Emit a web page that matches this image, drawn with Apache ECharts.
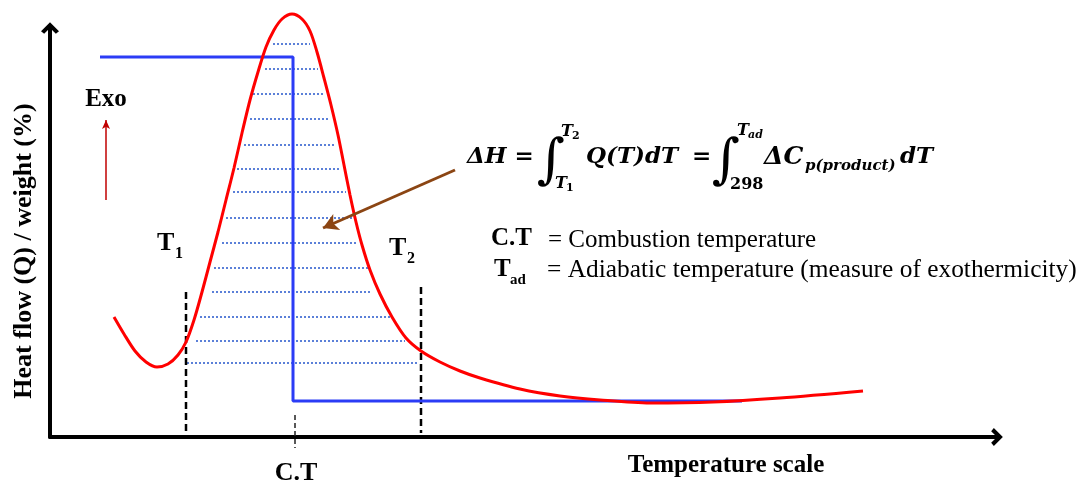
<!DOCTYPE html>
<html>
<head>
<meta charset="utf-8">
<script src="https://cdn.jsdelivr.net/npm/echarts@6/dist/echarts.min.js"></script>
<style>
  html, body { margin: 0; padding: 0; background: #fff; }
  #container { width: 1086px; height: 483px; }
</style>
</head>
<body>
<div id="container"></div>
<script>
// DSC / TG style sketch, arbitrary units (temperature scale, heat flow)
const curveT = [64, 74, 85, 96, 107, 118, 128, 136, 144, 152, 160, 168, 176, 184, 192, 200, 208, 216, 224, 232, 242, 252, 260, 267, 274, 281, 288, 294, 300, 306, 312, 320, 330, 342, 356, 371, 390, 410, 430, 470, 510, 550, 600, 663, 730, 813];
const curveQ = [120, 103, 86, 75, 70, 73, 82, 95, 117, 145, 175, 205, 237, 269, 304, 337, 365, 390, 407, 418, 423, 418, 406, 385, 359, 332, 302, 272, 242, 215, 192, 167, 143, 120, 99, 86, 75, 66, 59, 48, 41, 37, 34, 35, 39, 46];

const stepT = [50, 243, 243, 692];
const stepQ = [380, 380, 36, 36];

// hatched area under the peak
const hatchQ = [393, 368, 343, 318, 292, 268, 245, 219, 194, 169, 145, 120, 96, 74];
const hatchFrom = [223, 215, 203, 200, 194, 187, 183, 176, 172, 164, 162, 150, 146, 137];
const hatchTo = [260, 268, 275, 278, 285, 290, 296, 305, 308, 318, 322, 342, 355, 367];

// T1, C.T, T2 markers
const markT = [136, 245, 371];
const markTop = [145, 22, 150];
const markBottom = [0, -11, 4];

const exoArrow = [[56, 237], [56, 317]];
const dhArrow = [[405, 267], [273, 209]];

const chart = echarts.init(document.getElementById('container'), null, { renderer: 'canvas' });

const pts = (xs, ys) => xs.map((x, i) => [x, ys[i]]);
const chevron = 'path://M0,10 L10,0 L20,10 L16.5,13 L10,6.5 L3.5,13 Z';
const serif = '"Liberation Serif", "Times New Roman", serif';
const mathFont = '"DejaVu Serif", serif';

const series = [];

hatchQ.forEach((q, i) => {
  series.push({
    type: 'line',
    data: [[hatchFrom[i], q], [hatchTo[i], q]],
    symbol: 'none',
    clip: false,
    silent: true,
    lineStyle: { color: '#5b80d8', width: 2, type: [2, 2] }
  });
});

markT.forEach((t, i) => {
  series.push({
    type: 'line',
    data: [[t, markTop[i]], [t, markBottom[i]]],
    symbol: 'none',
    clip: false,
    silent: true,
    lineStyle: i === 1
      ? { color: '#222', width: 1.5, type: [5, 3] }
      : { color: '#000', width: 2.5, type: [7, 4] }
  });
});

series.push({
  type: 'line',
  data: pts(stepT, stepQ),
  symbol: 'none',
  clip: false,
  lineStyle: { color: '#2b3cf6', width: 3 }
});

series.push({
  type: 'line',
  data: pts(curveT, curveQ),
  smooth: 0.3,
  symbol: 'none',
  clip: false,
  lineStyle: { color: '#ff0000', width: 3 },
  markLine: {
    silent: true,
    animation: false,
    label: { show: false },
    data: [
      [
        { coord: exoArrow[0], symbol: 'none', lineStyle: { color: '#c00000', width: 1.5, type: 'solid' } },
        { coord: exoArrow[1], symbol: 'arrow', symbolSize: [6, 9], lineStyle: { color: '#c00000', width: 1.5, type: 'solid' } }
      ],
      [
        { coord: dhArrow[0], symbol: 'none', lineStyle: { color: '#8b4513', width: 3, type: 'solid' } },
        { coord: dhArrow[1], symbol: 'arrow', symbolSize: [13, 15], lineStyle: { color: '#8b4513', width: 3, type: 'solid' } }
      ]
    ]
  }
});

const txt = (text, x, y, font, extra) => ({
  type: 'text',
  silent: true,
  style: Object.assign({ text, x, y, font, fill: '#000', textAlign: 'left', textVerticalAlign: 'middle' }, extra || {})
});

const yName = txt('Heat flow (Q) / weight (%)', 0, 0, 'bold 26px ' + serif, { textAlign: 'center' });
yName.rotation = Math.PI / 2;
yName.x = 24;
yName.y = 251;

const graphic = [
  yName,
  txt('Temperature scale', 726, 466, 'bold 25px ' + serif, { textAlign: 'center' }),
  txt('C.T', 296, 473, 'bold 26px ' + serif, { textAlign: 'center' }),
  txt('Exo', 106, 100, 'bold 25px ' + serif, { textAlign: 'center' }),
  txt('T', 157, 243, 'bold 26px ' + serif),
  txt('1', 175, 254, 'bold 16px ' + serif),
  txt('T', 389, 248, 'bold 26px ' + serif),
  txt('2', 407, 259, 'bold 16px ' + serif),
  txt('C.T', 491, 239, 'bold 25px ' + serif),
  txt('= Combustion temperature', 548, 240, '25px ' + serif),
  txt('T', 494, 270, 'bold 25px ' + serif),
  txt('ad', 510, 280, 'bold 15px ' + serif),
  txt('= Adiabatic temperature (measure of exothermicity)', 547, 270, '25.4px ' + serif),
  // formula
  txt('\u0394H =', 467, 157, 'italic bold 23px ' + mathFont),
  txt('\u222B', 537, 163, '54px ' + mathFont),
  txt('T', 561, 132, 'italic bold 16px ' + mathFont),
  txt('2', 572, 136, 'bold 11px ' + mathFont),
  txt('T', 555, 184, 'italic bold 16px ' + mathFont),
  txt('1', 566, 188, 'bold 11px ' + mathFont),
  txt('Q(T)dT', 586, 157, 'italic bold 23px ' + mathFont),
  txt('=', 692, 157, 'bold 23px ' + mathFont),
  txt('\u222B', 712, 163, '54px ' + mathFont),
  txt('T', 737, 131, 'italic bold 16px ' + mathFont),
  txt('ad', 748, 135, 'italic bold 11px ' + mathFont),
  txt('298', 730, 185, 'bold 16px ' + mathFont),
  txt('\u0394C', 764, 157, 'italic bold 25px ' + mathFont),
  txt('p(product)', 805, 166, 'italic bold 15px ' + mathFont),
  txt('dT', 900, 157, 'italic bold 23px ' + mathFont)
];

const option = {
  animation: false,
  grid: { left: 50, right: 89, top: 28, bottom: 46 },
  xAxis: {
    type: 'value',
    min: 0,
    max: 947,
    axisLine: { show: true, symbol: ['none', chevron], symbolSize: [18, 12], lineStyle: { color: '#000', width: 4 } },
    axisTick: { show: false },
    axisLabel: { show: false },
    splitLine: { show: false }
  },
  yAxis: {
    type: 'value',
    min: 0,
    max: 409,
    axisLine: { show: true, symbol: ['none', chevron], symbolSize: [18, 12], lineStyle: { color: '#000', width: 4 } },
    axisTick: { show: false },
    axisLabel: { show: false },
    splitLine: { show: false }
  },
  series: series,
  graphic: graphic
};

chart.setOption(option);
window.addEventListener('resize', chart.resize);
</script>
</body>
</html>
